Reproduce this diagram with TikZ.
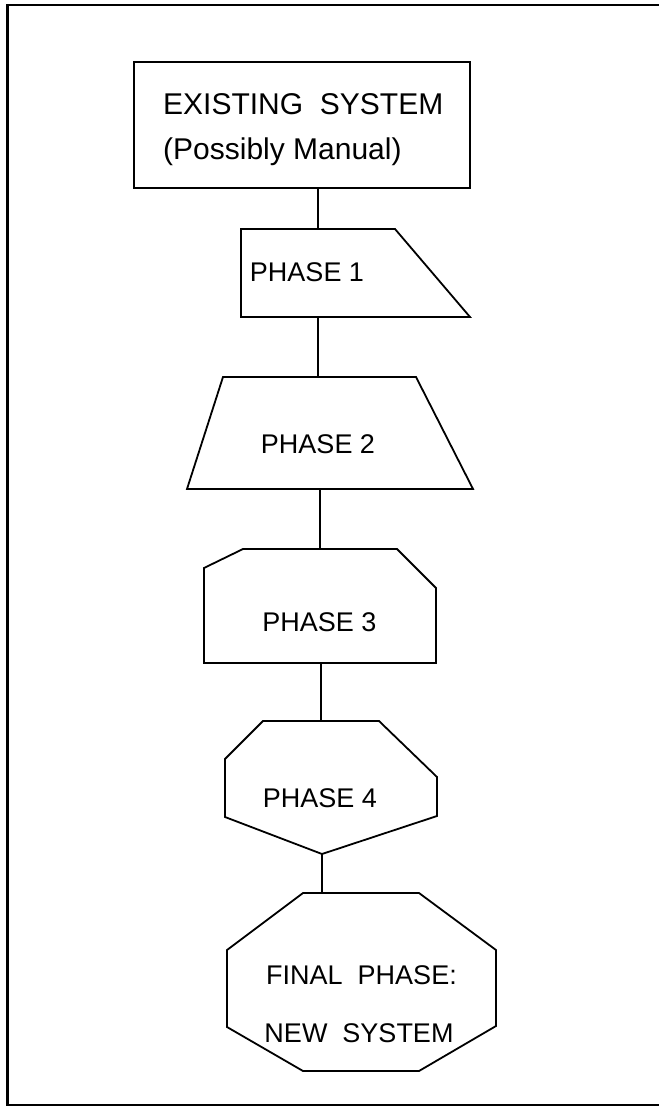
\documentclass[tikz,border=0pt]{standalone}
\usepackage{fontspec}
\newfontfamily\labelfont{Liberation Sans}
\begin{document}
\begin{tikzpicture}[x=1pt,y=-1pt,
  outline/.style={draw=black,line width=1.8pt,line join=miter},
  link/.style={draw=black,line width=1.8pt},
  lbl/.style={anchor=base,inner sep=0pt,font=\labelfont\fontsize{27}{27}\selectfont},
  biglbl/.style={anchor=base west,inner sep=0pt,font=\labelfont\fontsize{30}{30}\selectfont}]
\useasboundingbox (0,0) rectangle (658,1107);
% outer frame (right edge runs off the page)
\draw[line width=2.6pt] (670,5) -- (7.5,5) -- (7.5,1105) -- (670,1105);

% existing system
\node[outline,minimum width=336pt,minimum height=126pt,inner sep=0pt] (ex) at (302,125) {};
\node[biglbl] (ext1) at (163,115) {EXISTING\ \ SYSTEM};
\node[biglbl] (ext2) at (163,160) {(Possibly Manual)};

% phase 1: trapezoid with slanted right side
\draw[outline] (241,229) -- (395,229) -- (470,317) -- (241,317) -- cycle;
\coordinate (p1n) at (318,229);
\coordinate (p1s) at (318,317);
\node[lbl] (p1t) at (307,281) {PHASE 1};

% phase 2: symmetric trapezoid
\draw[outline] (223,377) -- (416,377) -- (473,489) -- (187,489) -- cycle;
\coordinate (p2n) at (318,377);
\coordinate (p2s) at (320,489);
\node[lbl] (p2t) at (318,453) {PHASE 2};

% phase 3: two clipped top corners
\draw[outline] (243,549) -- (397,549) -- (436,588) -- (436,663) -- (204,663) -- (204,568) -- cycle;
\coordinate (p3n) at (320,549);
\coordinate (p3s) at (321,663);
\node[lbl] (p3t) at (319.5,631) {PHASE 3};

% phase 4: clipped top corners, pointed bottom
\draw[outline] (263,721) -- (379,721) -- (437,777) -- (437,816) -- (322,854) -- (225,817) -- (225,759) -- cycle;
\coordinate (p4n) at (321,721);
\coordinate (p4s) at (322,854);
\node[lbl] (p4t) at (320,807) {PHASE 4};

% final phase: octagon
\draw[outline] (303,893) -- (419,893) -- (496,950) -- (496,1026) -- (419,1071) -- (303,1071) -- (227,1027) -- (227,950) -- cycle;
\coordinate (fpn) at (322,893);
\node[lbl] (fpt1) at (361.5,984) {FINAL\ \ PHASE:};
\node[lbl] (fpt2) at (359,1042) {NEW\ \ SYSTEM};

% connectors
\draw[link] (ex.south -| p1n) -- (p1n);
\draw[link] (p1s) -- (p2n);
\draw[link] (p2s) -- (p3n);
\draw[link] (p3s) -- (p4n);
\draw[link] (p4s) -- (fpn);
\end{tikzpicture}
\end{document}
